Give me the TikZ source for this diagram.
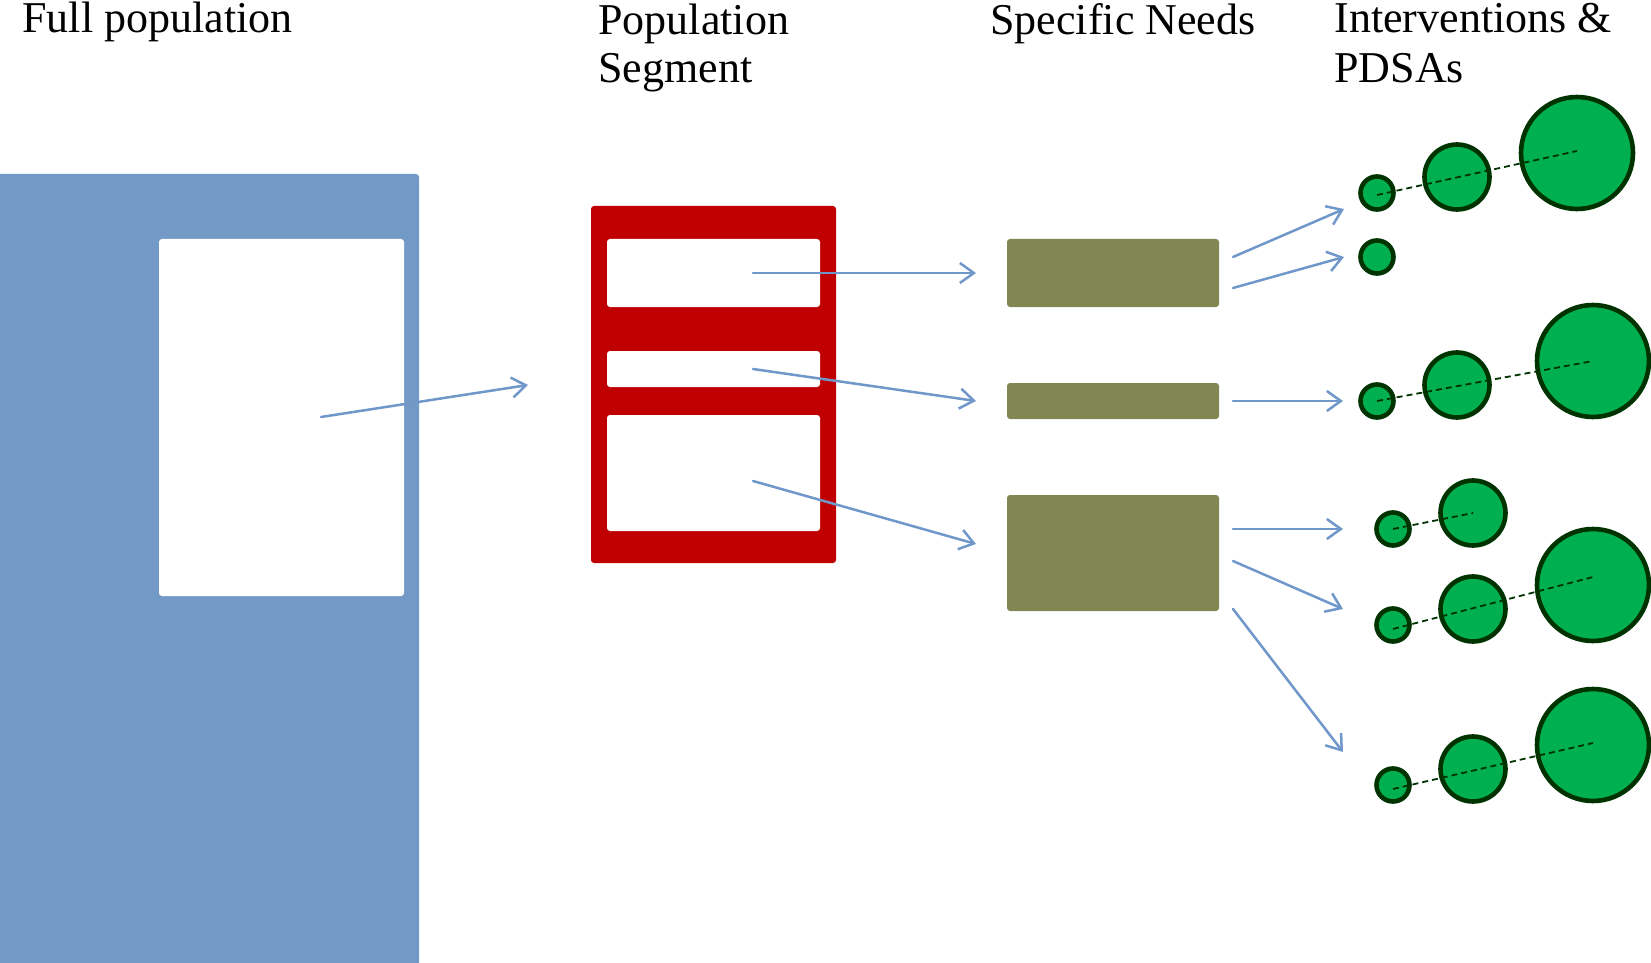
\documentclass[tikz,border=0pt]{standalone}
\usepackage{fontspec}
\setmainfont{Liberation Serif}
\usetikzlibrary{arrows.meta}
\definecolor{popblue}{HTML}{7399C6}
\definecolor{segred}{HTML}{C00000}
\definecolor{needolive}{HTML}{818653}
\definecolor{pdsafill}{HTML}{00B050}
\definecolor{pdsaline}{HTML}{003300}
\definecolor{flowblue}{HTML}{6F97C9}
\begin{document}
\begin{tikzpicture}[x=0.5pt,y=-0.5pt,
  heading/.style={anchor=base west, inner sep=0pt, font=\fontsize{22}{26}\selectfont},
  block/.style={anchor=north west, inner sep=0pt, outer sep=0pt, rounded corners=1.5pt, draw=none},
  slot/.style={block, fill=white},
  flow/.style={draw=flowblue, line width=1.25pt, line cap=round,
    -{Straight Barb[length=7pt,width=10pt,line width=1.25pt]}},
  pdsa/.style={circle, fill=pdsafill, draw=pdsaline, line width=2.3pt, inner sep=0pt},
  pdsaS/.style={pdsa, minimum size=16.5pt},
  pdsaM/.style={pdsa, minimum size=32.5pt},
  pdsaL/.style={pdsa, minimum size=56pt},
  link/.style={draw=pdsaline, line width=0.9pt, dash pattern=on 3pt off 2pt}
]
\useasboundingbox (0,0) rectangle (1651,963);

% column headings
\node[heading] (hfull) at (22,33) {Full population};
\node[heading] (hseg1) at (598,35) {Population};
\node[heading] (hseg2) at (598,83) {Segment};
\node[heading] (hneed) at (990,35) {Specific Needs};
\node[heading] (hint1) at (1334,33) {Interventions \&};
\node[heading] (hint2) at (1334,83) {PDSAs};

% full population with its highlighted part
\node[block, fill=popblue, minimum width=214.5pt, minimum height=400pt] (pop) at (-10,174) {};
\node[slot, minimum width=122.5pt, minimum height=178.5pt] (popsel) at (159,239) {};

% population segment
\node[block, fill=segred, minimum width=122.5pt, minimum height=178.5pt] (seg) at (591,206) {};
\node[slot, minimum width=106.5pt, minimum height=34pt] (seg1) at (607,239) {};
\node[slot, minimum width=106.5pt, minimum height=18pt] (seg2) at (607,351) {};
\node[slot, minimum width=106.5pt, minimum height=58pt] (seg3) at (607,415) {};

% specific needs
\node[block, fill=needolive, minimum width=106pt, minimum height=34pt] (need1) at (1007,239) {};
\node[block, fill=needolive, minimum width=106pt, minimum height=18pt] (need2) at (1007,383) {};
\node[block, fill=needolive, minimum width=106pt, minimum height=58pt] (need3) at (1007,495) {};

% interventions and PDSA cycles
\node[pdsaS] (a1) at (1377,193) {};
\node[pdsaM] (a2) at (1457,177) {};
\node[pdsaL] (a3) at (1577,153) {};
\node[pdsaS] (b1) at (1377,257) {};
\node[pdsaS] (c1) at (1377,401) {};
\node[pdsaM] (c2) at (1457,385) {};
\node[pdsaL] (c3) at (1593,361) {};
\node[pdsaS] (d1) at (1393,529) {};
\node[pdsaM] (d2) at (1473,513) {};
\node[pdsaS] (e1) at (1393,625) {};
\node[pdsaM] (e2) at (1473,609) {};
\node[pdsaL] (e3) at (1593,585) {};
\node[pdsaS] (f1) at (1393,785) {};
\node[pdsaM] (f2) at (1473,769) {};
\node[pdsaL] (f3) at (1593,745) {};

% growth of each PDSA series
\draw[link] ([yshift=-1pt]a1.center) -- ([yshift=1pt]a3.center);
\draw[link] (c1.center) -- (c3.center);
\draw[link] (d1.center) -- (d2.center);
\draw[link] ([yshift=-2pt]e1.center) -- ([yshift=4pt]e3.center);
\draw[link] ([yshift=-2pt]f1.center) -- ([yshift=1pt]f3.center);

% arrow end points
\coordinate (s0) at (321,417);  \coordinate (t0) at (528,385);
\coordinate (s1) at (753,273);  \coordinate (t1) at (976,273);
\coordinate (s2) at (753,369);  \coordinate (t2) at (976,401);
\coordinate (s3) at (753,481);  \coordinate (t3) at (976,544);
\coordinate (u1) at (1233,257); \coordinate (v1) at (1344,209);
\coordinate (u2) at (1233,288); \coordinate (v2) at (1344,257);
\coordinate (u3) at (1233,401); \coordinate (v3) at (1343,401);
\coordinate (u4) at (1233,529); \coordinate (v4) at (1343,529);
\coordinate (u5) at (1233,561); \coordinate (v5) at (1343,609);
\coordinate (u6) at (1233,609); \coordinate (v6) at (1343,752);

% flow between stages
\draw[flow] (s0) -- (t0);
\draw[flow] (s1) -- (t1);
\draw[flow] (s2) -- (t2);
\draw[flow] (s3) -- (t3);
\draw[flow] (u1) -- (v1);
\draw[flow] (u2) -- (v2);
\draw[flow] (u3) -- (v3);
\draw[flow] (u4) -- (v4);
\draw[flow] (u5) -- (v5);
\draw[flow] (u6) -- (v6);
\end{tikzpicture}
\end{document}
